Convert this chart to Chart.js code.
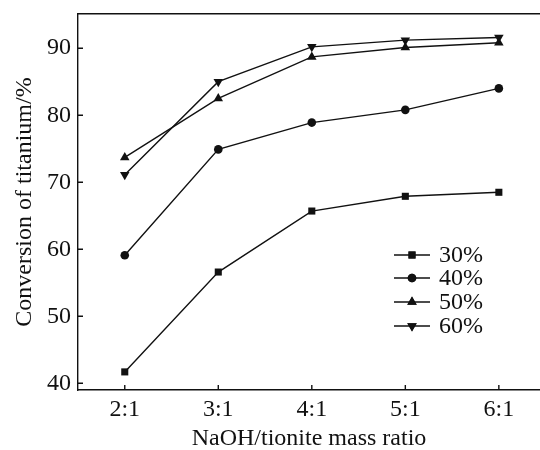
<!DOCTYPE html>
<html>
<head>
<meta charset="utf-8">
<script src="https://cdn.jsdelivr.net/npm/chart.js@4"></script>
<style>
  html, body { margin: 0; padding: 0; background: #fff; overflow: hidden; }
  #wrap { width: 540px; height: 450px; }
</style>
</head>
<body>
<div id="wrap"><canvas id="myChart"></canvas></div>
<script>
// datos
const ratios = [2, 3, 4, 5, 6];
const ratioLabels = ['2:1', '3:1', '4:1', '5:1', '6:1'];
const conc30 = [41.7, 56.6, 65.7, 67.9, 68.5];
const conc40 = [59.1, 74.9, 78.9, 80.8, 84.0];
const conc50 = [73.7, 82.5, 88.7, 90.1, 90.8];
const conc60 = [71.1, 85.0, 90.2, 91.2, 91.6];
const yTicks = [40, 50, 60, 70, 80, 90];

const ink = '#111';
const serif = 'Liberation Serif, Times New Roman, serif';

function serie(label, values, style, radius, rotation) {
    return {
        label: label,
        data: ratios.map((r, i) => ({ x: r, y: values[i] })),
        borderColor: ink,
        backgroundColor: ink,
        borderWidth: 1.4,
        pointStyle: style,
        pointRadius: radius,
        pointRotation: rotation || 0,
        pointBorderWidth: 0,
        tension: 0
    };
}

// quitar el relleno automático de las escalas
function sinPadding(scale) {
    scale.paddingLeft = 0;
    scale.paddingRight = 0;
    scale.paddingTop = 0;
    scale.paddingBottom = 0;
}

// marcas de eje hacia adentro + leyenda dentro del área
const inwardTicks = {
    id: 'inwardTicks',
    afterDraw(chart) {
        const ctx = chart.ctx;
        const a = chart.chartArea;
        const xs = chart.scales.x, ys = chart.scales.y;
        ctx.save();
        ctx.strokeStyle = ink;
        ctx.lineWidth = 1.4;
        ctx.beginPath();
        ratios.forEach(r => {
            const px = xs.getPixelForValue(r);
            ctx.moveTo(px, a.bottom);
            ctx.lineTo(px, a.bottom - 5);
        });
        yTicks.forEach(v => {
            const py = ys.getPixelForValue(v);
            ctx.moveTo(a.left, py);
            ctx.lineTo(a.left + 5, py);
        });
        ctx.stroke();

        // leyenda
        const rowsY = [255, 278, 302, 326];
        ctx.font = '24px ' + serif;
        ctx.textBaseline = 'middle';
        ctx.fillStyle = ink;
        chart.data.datasets.forEach((ds, i) => {
            const y = rowsY[i];
            ctx.beginPath();
            ctx.moveTo(394, y);
            ctx.lineTo(430, y);
            ctx.stroke();
            Chart.helpers.drawPoint(ctx, {
                pointStyle: ds.pointStyle,
                radius: ds.pointRadius,
                rotation: ds.pointRotation,
                borderWidth: 0
            }, 412, y);
            ctx.fill();
            ctx.fillText(ds.label, 439, y + 1);
        });
        ctx.restore();
    }
};

const ctx = document.getElementById('myChart').getContext('2d');
const chart = new Chart(ctx, {
    type: 'line',
    data: {
        datasets: [
            serie('30%', conc30, 'rect', 5),
            serie('40%', conc40, 'circle', 4.3),
            serie('50%', conc50, 'triangle', 5.5),
            serie('60%', conc60, 'triangle', 5.5, 180)
        ]
    },
    options: {
        responsive: true,
        maintainAspectRatio: false,
        animation: false,
        layout: { padding: 0, autoPadding: false },
        plugins: {
            legend: { display: false },
            tooltip: { enabled: false }
        },
        scales: {
            x: {
                type: 'linear',
                min: 1.5,
                max: 6.44,
                afterBuildTicks: (scale) => { scale.ticks = ratios.map(v => ({ value: v })); },
                afterFit: (scale) => { scale.height = 60; sinPadding(scale); },
                grid: { display: false, drawTicks: false },
                border: { display: true, color: ink, width: 1.4 },
                ticks: {
                    color: ink,
                    font: { family: serif, size: 24 },
                    padding: 5,
                    maxRotation: 0,
                    callback: (v) => ratioLabels[ratios.indexOf(v)] || ''
                },
                title: {
                    display: true,
                    text: 'NaOH/tionite mass ratio',
                    color: ink,
                    font: { family: serif, size: 24 },
                    padding: { top: 0, bottom: -3 }
                }
            },
            xTop: {
                type: 'linear',
                position: 'top',
                min: 1.5,
                max: 6.44,
                afterFit: (scale) => { scale.height = 14; sinPadding(scale); },
                grid: { display: false, drawTicks: false },
                border: { display: true, color: ink, width: 1.4 },
                ticks: { display: false }
            },
            y: {
                min: 39,
                max: 95.1,
                afterBuildTicks: (scale) => { scale.ticks = yTicks.map(v => ({ value: v })); },
                afterFit: (scale) => { scale.width = 78; sinPadding(scale); },
                grid: { display: false, drawTicks: false },
                border: { display: true, color: ink, width: 1.4 },
                ticks: {
                    color: ink,
                    font: { family: serif, size: 24 },
                    padding: 7
                },
                title: {
                    display: true,
                    text: 'Conversion of titanium/%',
                    color: ink,
                    font: { family: serif, size: 24 },
                    padding: { top: 10, bottom: 0 }
                }
            }
        }
    },
    plugins: [inwardTicks]
});
</script>
</body>
</html>
